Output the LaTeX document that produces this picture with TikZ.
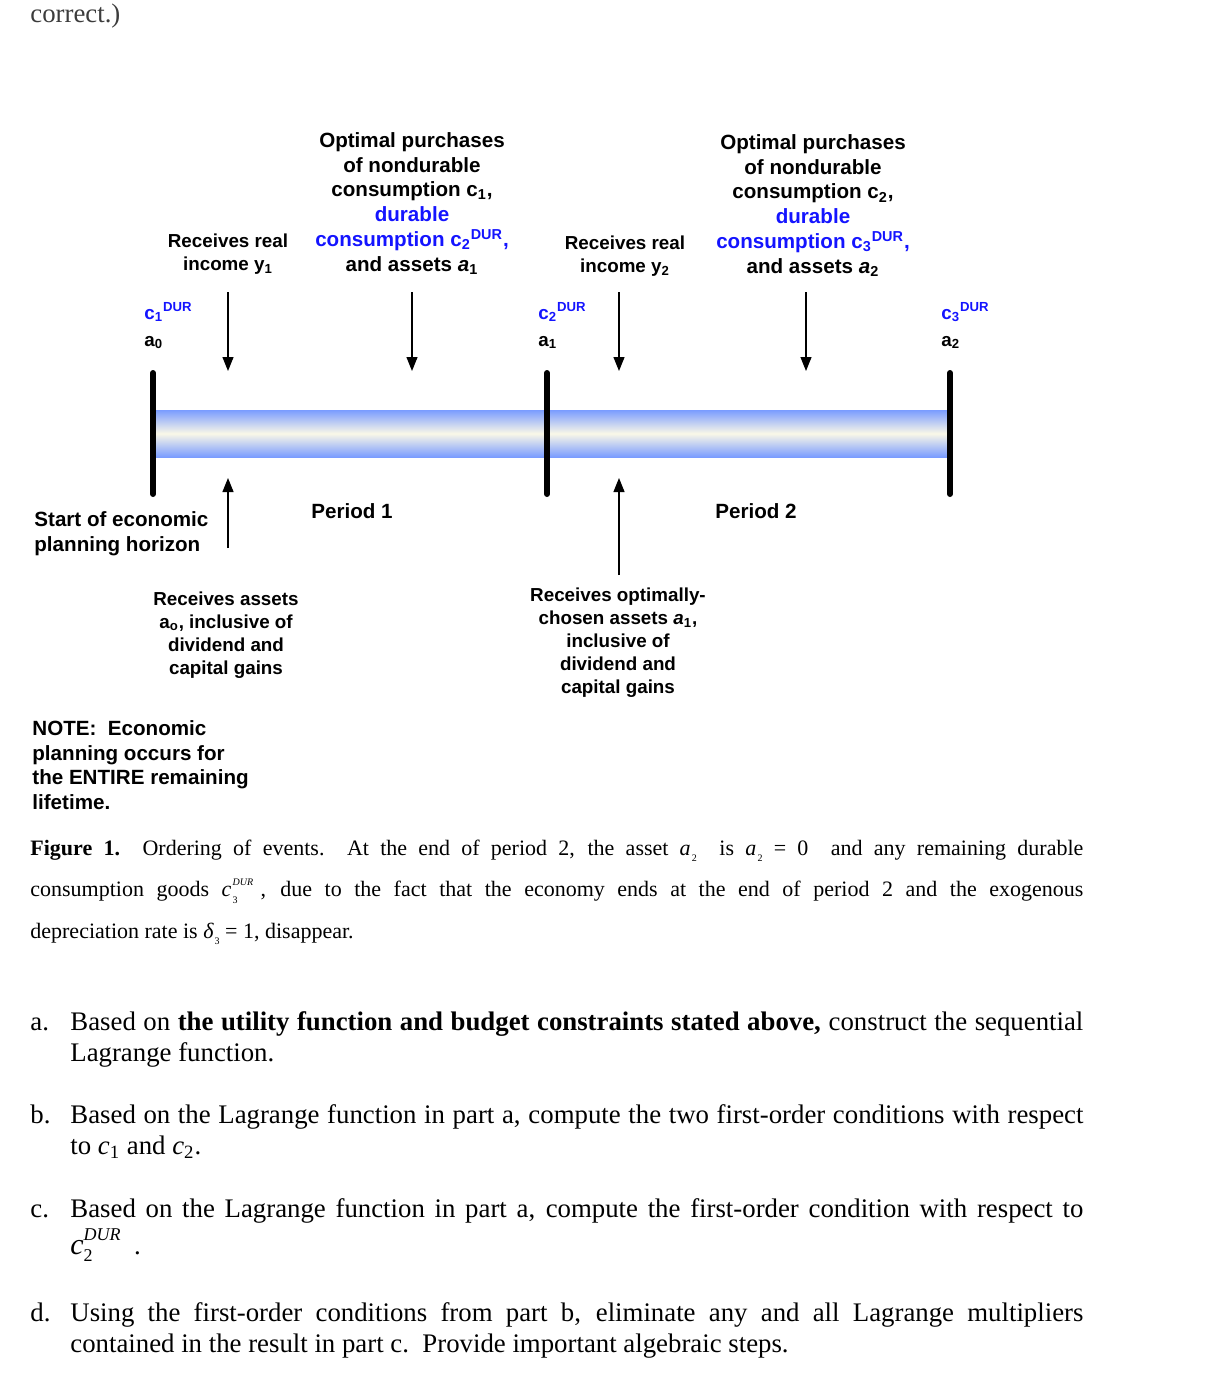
\documentclass[tikz,border=0pt]{standalone}
\usepackage{fontspec}
\setmainfont{Liberation Serif}
\setsansfont{Liberation Sans}
\usetikzlibrary{arrows.meta}
\definecolor{durblue}{RGB}{20,20,255}
\definecolor{barblue}{RGB}{122,156,255}
\definecolor{barcream}{RGB}{250,248,232}
\definecolor{topgray}{RGB}{60,60,60}
\newcommand\evsub[2]{{\itshape #1}\kern0.6pt\raisebox{-0.6ex}{\fontsize{5}{5}\selectfont #2}}
\newcommand\evsupsub[3]{{\itshape #1}\kern0.6pt\rlap{\raisebox{-0.6ex}{\fontsize{5}{5}\selectfont #3}}\raisebox{1.1ex}{\fontsize{5}{5}\selectfont\itshape #2}}
\newcommand\evbigsupsub[3]{{\fontsize{15}{15}\selectfont\itshape #1}\rlap{\raisebox{-0.5ex}{\fontsize{9}{9}\selectfont #3}}\raisebox{1.2ex}{\fontsize{9}{9}\selectfont\itshape #2}}
\begin{document}
\begin{tikzpicture}[x=0.5pt,y=-0.5pt,
  lbl/.style={font=\sffamily\bfseries\fontsize{10.3}{12.4}\selectfont, align=center, inner sep=0pt, anchor=north},
  lbls/.style={lbl, font=\sffamily\bfseries\fontsize{9.4}{11.6}\selectfont},
  lbll/.style={lbl, align=left, anchor=north west},
  evarrow/.style={line width=0.6pt, -{Triangle[length=7pt,width=5.5pt]}},
  tickbar/.style={line width=3pt, line cap=round},
  capt/.style={font=\fontsize{11}{20.75}\selectfont, inner sep=0pt, anchor=north west, text width=526.5pt, align=justify},
  parttext/.style={font=\fontsize{13.4}{15.5}\selectfont, inner sep=0pt, anchor=north west, text width=506.5pt, align=justify},
  partlbl/.style={font=\fontsize{13.4}{15.5}\selectfont, inner sep=0pt, anchor=north west},
]
\useasboundingbox (0,0) rectangle (1218,1376);

% top remnant
\node[font=\fontsize{13.4}{15.5}\selectfont, text=topgray, inner sep=0pt, anchor=base west] (prev) at (30,23) {correct.)};

% time bar
\shade[top color=barblue, bottom color=barblue, middle color=barcream] (155,410) rectangle (948,457);
\node[inner sep=0pt, minimum width=0pt] (bar) at (551,433) {};

% ticks
\coordinate (t1a) at (153,373); \coordinate (t1b) at (153,494);
\coordinate (t2a) at (547,373); \coordinate (t2b) at (547,494);
\coordinate (t3a) at (950,373); \coordinate (t3b) at (950,494);
\draw[tickbar] (t1a) -- (t1b);
\draw[tickbar] (t2a) -- (t2b);
\draw[tickbar] (t3a) -- (t3b);

% top labels
\node[lbls] (inc1) at (228,233) {Receives real\\income y\textsubscript{1}};
\node[lbl] (opt1) at (412,132) {Optimal purchases\\of nondurable\\consumption c\textsubscript{1},\\\textcolor{durblue}{durable}\\\textcolor{durblue}{consumption c\textsubscript{2}\textsuperscript{DUR},}\\and assets \textit{a}\textsubscript{1}};
\node[lbls] (inc2) at (625,235) {Receives real\\income y\textsubscript{2}};
\node[lbl] (opt2) at (813,134) {Optimal purchases\\of nondurable\\consumption c\textsubscript{2},\\\textcolor{durblue}{durable}\\\textcolor{durblue}{consumption c\textsubscript{3}\textsuperscript{DUR},}\\and assets \textit{a}\textsubscript{2}};

% stocks at tick marks
\node[lbls, anchor=base west, text=durblue] (cd1) at (144,319) {c\textsubscript{1}\textsuperscript{DUR}};
\node[lbls, anchor=base west] (a0) at (144,346) {a\textsubscript{0}};
\node[lbls, anchor=base west, text=durblue] (cd2) at (538,319) {c\textsubscript{2}\textsuperscript{DUR}};
\node[lbls, anchor=base west] (a1) at (538,346) {a\textsubscript{1}};
\node[lbls, anchor=base west, text=durblue] (cd3) at (941,319) {c\textsubscript{3}\textsuperscript{DUR}};
\node[lbls, anchor=base west] (a2) at (941,346) {a\textsubscript{2}};

% down arrows
\coordinate (d1s) at (228,292); \coordinate (d1e) at (228,371);
\coordinate (d2s) at (412,292); \coordinate (d2e) at (412,371);
\coordinate (d3s) at (619,292); \coordinate (d3e) at (619,371);
\coordinate (d4s) at (806,292); \coordinate (d4e) at (806,371);
\draw[evarrow] (d1s) -- (d1e);
\draw[evarrow] (d2s) -- (d2e);
\draw[evarrow] (d3s) -- (d3e);
\draw[evarrow] (d4s) -- (d4e);

% up arrows
\coordinate (u1s) at (228,548); \coordinate (u1e) at (228,478);
\coordinate (u2s) at (619,575); \coordinate (u2e) at (619,478);
\draw[evarrow] (u1s) -- (u1e);
\draw[evarrow] (u2s) -- (u2e);

% lower labels
\node[lbll] (start) at (34,511) {Start of economic\\planning horizon};
\node[lbl, anchor=center] (p1) at (352,511) {Period 1};
\node[lbl, anchor=center] (p2) at (756,511) {Period 2};
\node[lbls] (recA) at (226,591) {Receives assets\\a\textsubscript{o}, inclusive of\\dividend and\\capital gains};
\node[lbls] (recB) at (618,587) {Receives optimally-\\chosen assets \textit{a}\textsubscript{1},\\inclusive of\\dividend and\\capital gains};
\node[lbll] (note) at (32,720) {NOTE:\ \ Economic\\planning occurs for\\the ENTIRE remaining\\lifetime.};

% caption
\node[capt] (caption) at (30,826) {\strut\textbf{Figure 1.}\ \ Ordering of events.\ \ At the end of period 2, the asset \evsub{a}{2}\ \ is \evsub{a}{2}\ =\ 0\ \ and any remaining durable\linebreak consumption goods \evsupsub{c}{DUR}{3}\,\,, due to the fact that the economy ends at the end of period 2 and the exogenous\linebreak depreciation rate is \evsub{δ}{3}\ =\ 1, disappear.};

% questions
\node[partlbl] (la) at (30,1008) {\strut a.};
\node[parttext] (qa) at (70,1008) {\strut Based on \textbf{the utility function and budget constraints stated above,} construct the sequential\linebreak Lagrange function.};
\node[partlbl] (lb) at (30,1101) {\strut b.};
\node[parttext] (qb) at (70,1101) {\strut Based on the Lagrange function in part a, compute the two first-order conditions with respect\linebreak to \textit{c}\textsubscript{1} and \textit{c}\textsubscript{2}.};
\node[partlbl] (lc) at (30,1195) {\strut c.};
\node[parttext] (qc) at (70,1195) {\strut Based on the Lagrange function in part a, compute the first-order condition with respect to\linebreak \evbigsupsub{c}{DUR}{2}\ \ .};
\node[partlbl] (ld) at (30,1299) {\strut d.};
\node[parttext] (qd) at (70,1299) {\strut Using the first-order conditions from part b, eliminate any and all Lagrange multipliers\linebreak contained in the result in part c.\ \ Provide important algebraic steps.};
\end{tikzpicture}
\end{document}
